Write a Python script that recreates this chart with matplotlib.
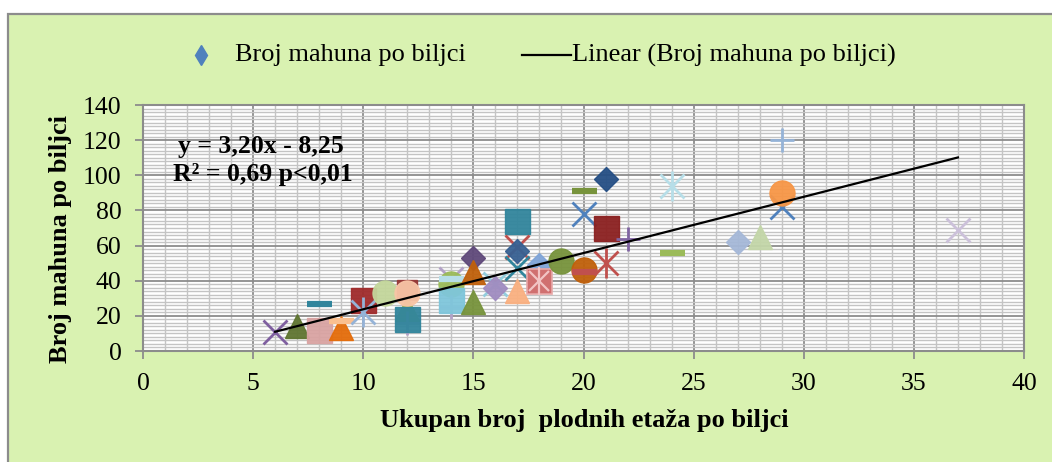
import matplotlib
matplotlib.use("Agg")
import matplotlib.pyplot as plt
import numpy as np
from matplotlib.patches import Rectangle
from matplotlib.lines import Line2D
from matplotlib.ticker import MultipleLocator

# ---- data ----
x_vals = [6, 7, 8, 8, 9, 9, 10, 10, 11, 12, 12, 12, 12, 12, 12,
          14, 14, 14, 14, 14, 15, 15, 15, 16, 16, 17, 17, 17, 17, 17,
          18, 18, 19, 20, 20, 21, 20, 20, 21, 21, 22, 24, 24, 27, 28,
          29, 29, 29, 37]
y_vals = [11, 14, 12, 27, 13, 17, 29, 22, 33, 35, 24, 24, 16, 18, 33,
          41, 38, 25, 29, 41, 53, 45, 28, 38, 36, 34, 74, 59, 57, 47,
          49, 40, 51, 46, 45, 50, 91, 78, 98, 70, 64, 94, 56, 62, 65,
          120, 82, 90, 69]
trend_slope = 3.20
trend_intercept = -8.25
equation_text = "y = 3,20x - 8,25"
r2_text = "R\u00b2 = 0,69 p<0,01"
x_label = "Ukupan broj  plodnih etaža po biljci"
y_label = "Broj mahuna po biljci"
series_name = "Broj mahuna po biljci"
trend_name = "Linear (Broj mahuna po biljci)"

# ---- per-point styles (Excel "vary colors by point") ----
markers = ['x', '^', 's', '_', '^', '_', 's', '*', 'o', 's', '^', '^', '+', 's', 'o',
           'x', 'o', '+', 's', '_', 'D', '^', '^', 'x', 'D', '^', 's', 'x', 'D', 'x',
           'D', 's*', 'o', 'o', '_', '*', '_', 'x', 'D', 's', '+', '*', '_', 'D', '^',
           '+', 'x', 'o', 'x']
colors = ['#7F5FA0', '#5F7530', '#D9A3A2', '#31859C', '#E46C0A', '#FAC090', '#A02B2B', '#95B3D7',
          '#C3D69B', '#953735', '#F79646', '#9BBB59', '#B3A2C7', '#31859C', '#F8C5A6',
          '#B3A2C7', '#9BBB59', '#B3A2C7', '#7FC6DB', '#B7DEE8', '#5F497A', '#C0600A', '#77933C',
          '#93CDDD', '#A08CC0', '#FAB080', '#31859C', '#C0504D', '#376092', '#31859C',
          '#7FA4D8', '#D07070', '#77933C', '#C0600A', '#C0504D', '#C0504D', '#77933C', '#4F81BD',
          '#254F85', '#8B2020', '#8064A2', '#B7DEE8', '#9BBB59', '#A5B8D8', '#C3D6A8',
          '#95B3D7', '#4F81BD', '#F79646', '#CCC1DA']

W, H = 1052, 462
fig = plt.figure(figsize=(W / 100, H / 100), dpi=100)
fig.patch.set_facecolor('white')

green = '#D9F2B1'
bg = Rectangle((8 / W, -0.01), 1.0, (H - 14) / H + 0.01, transform=fig.transFigure,
               facecolor=green, edgecolor='#8C8C8C', linewidth=1.6, zorder=-10)
fig.patches.append(bg)

left, right, top, bottom = 143, 1024, 105, 351
ax = fig.add_axes([left / W, (H - bottom) / H, (right - left) / W, (bottom - top) / H])
ax.set_zorder(2)
ax.set_facecolor('white')
ax.set_xlim(0, 40)
ax.set_ylim(0, 140)
ax.xaxis.set_major_locator(MultipleLocator(5))
ax.yaxis.set_major_locator(MultipleLocator(20))
ax.xaxis.set_minor_locator(MultipleLocator(1))
ax.yaxis.set_minor_locator(MultipleLocator(2))
ax.grid(which='minor', color='#C4C4C4', linewidth=1.0, zorder=0)
ax.grid(which='major', color='#8C8C8C', linewidth=1.3, zorder=0)
ax.set_axisbelow(True)
for s in ax.spines.values():
    s.set_color('#8C8C8C')
    s.set_linewidth(1.5)
ax.tick_params(which='major', direction='out', length=5.5, width=1.3, color='#8C8C8C',
               labelsize=18.5, pad=10)
ax.tick_params(which='minor', length=0)
for lab in ax.get_xticklabels() + ax.get_yticklabels():
    lab.set_fontfamily('Liberation Serif')

ms_map = {'x': 17, '^': 17, 's': 18, 'o': 18, 'D': 12, '_': 18, '+': 17, '*': 17}
for i, (xv, yv, mk, c) in enumerate(zip(x_vals, y_vals, markers, colors)):
    if mk in ('x', '+'):
        ax.plot(xv, yv, marker=mk, ms=ms_map[mk], mew=2.0, color=c, linestyle='none', zorder=3)
    elif mk == '*':
        ax.plot(xv, yv, marker='x', ms=17, mew=2.0, color=c, linestyle='none', zorder=3)
        ax.plot(xv, yv, marker='|', ms=22, mew=2.0, color=c, linestyle='none', zorder=3)
    elif mk == 's*':
        ax.plot(xv, yv, marker='s', ms=18, color=c, mec='#E8A8A8', mew=1.2, linestyle='none', zorder=3)
        ax.plot(xv, yv, marker='x', ms=15, mew=1.6, color='#F2C4C4', linestyle='none', zorder=3)
        ax.plot(xv, yv, marker='|', ms=20, mew=1.6, color='#F2C4C4', linestyle='none', zorder=3)
    elif mk == '_':
        ax.plot(xv, yv, marker='_', ms=18, mew=4.5, color=c, linestyle='none', zorder=3)
    else:
        size = 14 if (mk == 's' and c == '#953735') else ms_map[mk]
        ax.plot(xv, yv, marker=mk, ms=size, color=c, mec=c, mew=1.0,
                linestyle='none', zorder=3, alpha=0.95)

xs = np.array(x_vals, dtype=float)
tx = np.array([xs.min(), xs.max()])
ax.plot(tx, trend_slope * tx + trend_intercept, color='black', linewidth=1.6, zorder=5)

ax.text(178 / W, 1 - 146 / H, equation_text, transform=fig.transFigure, fontsize=18.5,
        fontweight='bold', family='Liberation Serif', va='center', ha='left', zorder=6)
ax.text(173 / W, 1 - 174 / H, r2_text, transform=fig.transFigure, fontsize=18.5,
        fontweight='bold', family='Liberation Serif', va='center', ha='left', zorder=6)

fig.text(584 / W, 1 - 421 / H, x_label, fontsize=19, fontweight='bold',
         family='Liberation Serif', ha='center', va='center')
fig.text(60 / W, 1 - 239 / H, y_label, fontsize=19, fontweight='bold',
         family='Liberation Serif', ha='center', va='center', rotation=90)

# legend
fig.lines.append(Line2D([201 / W], [1 - 55 / H], transform=fig.transFigure, marker='d',
                        ms=10, color='#4F81BD', linestyle='none'))
fig.text(235 / W, 1 - 55 / H, series_name, fontsize=19, family='Liberation Serif',
         ha='left', va='center')
fig.lines.append(Line2D([522 / W, 571 / W], [1 - 55 / H, 1 - 55 / H], transform=fig.transFigure,
                        color='black', linewidth=1.6))
fig.text(572 / W, 1 - 55 / H, trend_name, fontsize=19, family='Liberation Serif',
         ha='left', va='center')

fig.savefig('out.png', dpi=100, facecolor='white')
